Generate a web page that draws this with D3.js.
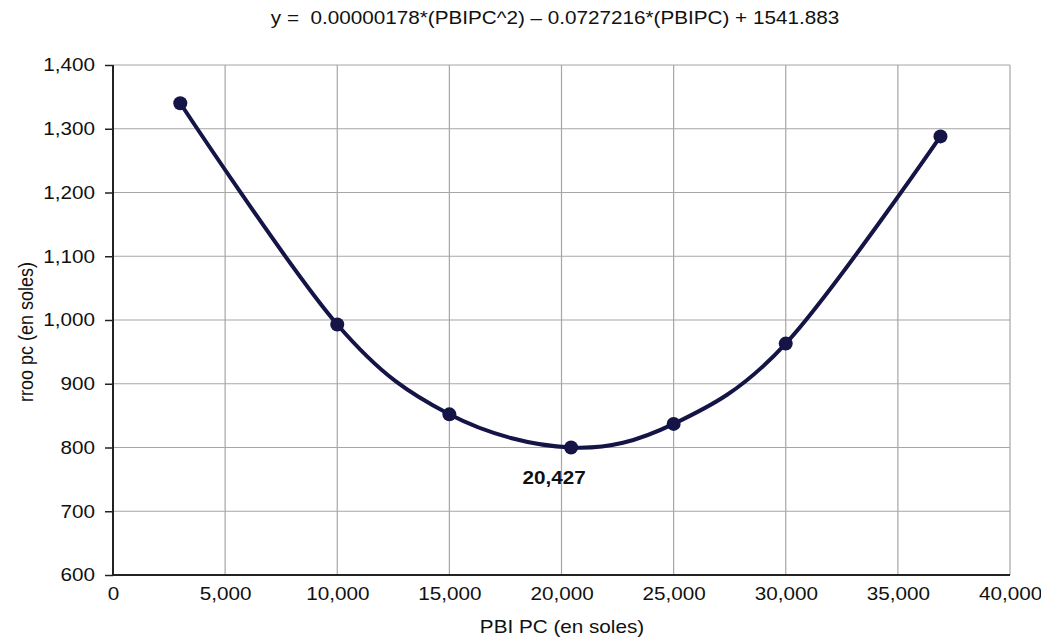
<!DOCTYPE html>
<html>
<head>
<meta charset="utf-8">
<script src="https://cdn.jsdelivr.net/npm/d3@7"></script>
<style>
  body { margin: 0; background: #fff; }
  svg { font-family: "Liberation Sans", Arial, sans-serif; }
</style>
</head>
<body>
<div class="chart"></div>
<script>
// values
var pbiPC = [3000, 10000, 15000, 20427, 25000, 30000, 36900];
var rrooPC = [1340, 993, 852, 800, 837, 963, 1288];
var xTicks = [0, 5000, 10000, 15000, 20000, 25000, 30000, 35000, 40000];
var yTicks = [600, 700, 800, 900, 1000, 1100, 1200, 1300, 1400];
var titleText = "y =  0.00000178*(PBIPC^2) \u2013 0.0727216*(PBIPC) + 1541.883";
var minLabel = "20,427";

var width = 1041, height = 637;
var margin = {top: 65, right: 31, bottom: 62, left: 113};
var fs = 18, k = 1.15;   // the text in the picture is a bit wide

var svg = d3.select('.chart').append('svg')
  .attr('width', width)
  .attr('height', height);

var x = d3.scaleLinear().domain([0, 40000]).range([margin.left, width - margin.right]);
var y = d3.scaleLinear().domain([600, 1400]).range([height - margin.bottom, margin.top]);
var fmt = d3.format(',');

// grid
svg.append('g').selectAll('line.gx')
  .data(xTicks.slice(1))
  .enter().append('line')
  .attr('x1', d => x(d)).attr('x2', d => x(d))
  .attr('y1', y(600)).attr('y2', y(1400))
  .attr('stroke', '#a6a6a6').attr('stroke-width', 1.2);

svg.append('g').selectAll('line.gy')
  .data(yTicks.slice(1))
  .enter().append('line')
  .attr('x1', x(0)).attr('x2', x(40000))
  .attr('y1', d => y(d)).attr('y2', d => y(d))
  .attr('stroke', '#a6a6a6').attr('stroke-width', 1.2);

// axes
var xAxis = svg.append('g')
  .attr('transform', `translate(0,${y(600)})`)
  .call(d3.axisBottom(x).tickValues(xTicks).tickFormat(fmt).tickSize(0).tickPadding(12));

var yAxis = svg.append('g')
  .attr('transform', `translate(${x(0)},0)`)
  .call(d3.axisLeft(y).tickValues(yTicks).tickFormat(fmt).tickSize(8));

[xAxis, yAxis].forEach(function(a){
  a.select('.domain').attr('stroke', '#222').attr('stroke-width', 2);
  a.selectAll('.tick line').attr('stroke', '#222').attr('stroke-width', 1.5);
  a.selectAll('text').attr('font-size', fs).attr('fill', '#111')
    .attr('font-family', '"Liberation Sans", Arial, sans-serif')
    .attr('transform', `scale(${k},1)`);
});
yAxis.selectAll('text').attr('x', -18 / k);
xAxis.select('.domain').attr('d', `M${x(0)},0H${x(40000)}`);
yAxis.select('.domain').attr('d', `M0,${y(600)}V${y(1400)}`);

// curve
var pts = pbiPC.map((d, i) => [d, rrooPC[i]]);
var line = d3.line()
  .x(d => x(d[0]))
  .y(d => y(d[1]))
  .curve(d3.curveCardinal.tension(0));

svg.append('path')
  .datum(pts)
  .attr('d', line)
  .attr('fill', 'none')
  .attr('stroke', '#141446')
  .attr('stroke-width', 4);

svg.append('g').selectAll('circle')
  .data(pts)
  .enter().append('circle')
  .attr('cx', d => x(d[0]))
  .attr('cy', d => y(d[1]))
  .attr('r', 7)
  .attr('fill', '#141446');

// labels
function label(px, py, txt, extra) {
  return svg.append('text')
    .attr('transform', `translate(${px},${py}) scale(${k},1)` + (extra || ''))
    .attr('text-anchor', 'middle')
    .attr('font-size', fs)
    .attr('fill', '#111')
    .style('white-space', 'pre')
    .text(txt);
}

label(x(20427) - 17, y(800) + 36, minLabel).attr('font-weight', 'bold');
label(555, 24, titleText);
label(562, 633, 'PBI PC (en soles)');
label(33, 332, 'rroo pc (en soles)', ' rotate(-90)');
</script>
</body>
</html>
